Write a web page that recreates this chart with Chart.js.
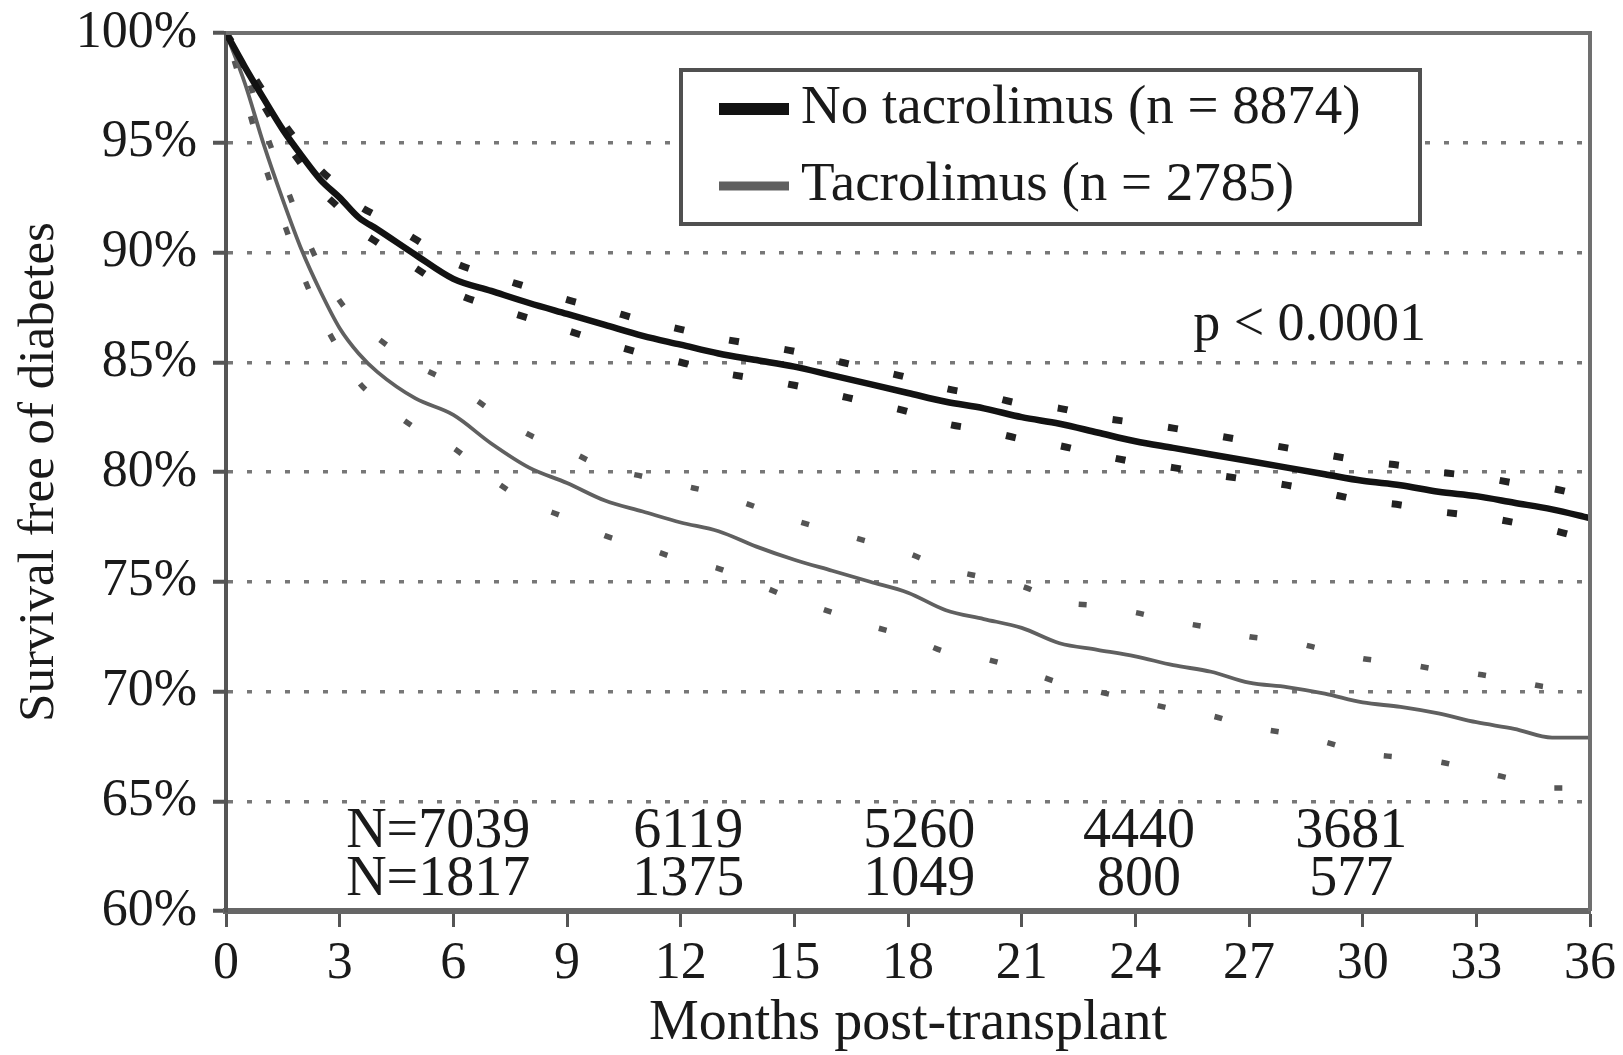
<!DOCTYPE html>
<html>
<head>
<meta charset="utf-8">
<script src="https://cdn.jsdelivr.net/npm/chart.js@4.4.0/dist/chart.umd.min.js"></script>
<style>
  html, body { margin: 0; padding: 0; background: #fff; }
  #wrap { width: 1623px; height: 1055px; }
</style>
</head>
<body>
<div id="wrap"><canvas id="myChart"></canvas></div>
<script>
const months = [0, 0.5, 1, 1.5, 2, 2.5, 3, 3.5, 4, 5, 6, 7, 8, 9, 10, 11, 12,
    13, 14, 15, 16, 17, 18, 19, 20, 21, 22, 23, 24, 25, 26, 27, 28, 29, 30,
    31, 32, 33, 34, 35, 36];

// survival free of diabetes, %
const noTacro = [100, 98.45, 97.0, 95.6, 94.4, 93.3, 92.5, 91.6, 91.05,
    89.9, 88.8, 88.25, 87.7, 87.2, 86.7, 86.2, 85.8,
    85.4, 85.1, 84.8, 84.4, 84.0, 83.6,
    83.2, 82.9, 82.5, 82.2, 81.8, 81.4,
    81.1, 80.8, 80.5, 80.2, 79.9, 79.6,
    79.4, 79.1, 78.9, 78.6, 78.3, 77.9];
const noTacroUpper = [100, 98.65, 97.3, 95.95, 94.8, 93.75, 93.0, 92.15, 91.65,
    90.6, 89.55, 88.95, 88.4, 87.85, 87.4, 86.9, 86.5,
    86.1, 85.8, 85.5, 85.1, 84.7, 84.3,
    83.8, 83.5, 83.1, 82.9, 82.5, 82.25,
    82.0, 81.7, 81.4, 81.1, 80.8, 80.5,
    80.3, 80.0, 79.8, 79.5, 79.25, 78.85];
const noTacroLower = [100, 98.3, 96.7, 95.25, 94.0, 92.85, 92.0, 91.05, 90.45,
    89.3, 88.2, 87.55, 87.0, 86.45, 85.9, 85.4, 85.0,
    84.55, 84.25, 83.95, 83.55, 83.15, 82.75,
    82.2, 81.9, 81.5, 81.2, 80.8, 80.45,
    80.2, 79.9, 79.65, 79.4, 79.05, 78.7,
    78.5, 78.2, 78.0, 77.7, 77.35, 76.9];

const tacro = [100, 97.7, 94.9, 92.4, 90.1, 88.2, 86.55, 85.4, 84.55,
    83.35, 82.6, 81.3, 80.2, 79.5, 78.7, 78.2, 77.7,
    77.3, 76.6, 76.0, 75.5, 75.0, 74.5,
    73.7, 73.3, 72.9, 72.2, 71.9, 71.6,
    71.2, 70.9, 70.4, 70.2, 69.9, 69.5,
    69.3, 69.0, 68.6, 68.3, 67.9, 67.9];
const tacroUpper = [100, 98.3, 95.7, 93.4, 91.2, 89.3, 87.8, 86.8, 86.1,
    84.9, 84.0, 82.8, 81.7, 81.0, 80.2, 79.8, 79.4,
    79.0, 78.4, 77.8, 77.3, 76.8, 76.3,
    75.6, 75.2, 74.8, 74.1, 73.9, 73.6,
    73.2, 72.9, 72.5, 72.3, 71.9, 71.5,
    71.3, 71.0, 70.8, 70.5, 70.2, 70.2];
const tacroLower = [100, 97.1, 94.1, 91.5, 89.1, 87.1, 85.5, 84.1, 83.3,
    82.0, 81.1, 79.7, 78.6, 77.9, 77.1, 76.6, 76.0,
    75.6, 74.9, 74.2, 73.6, 73.0, 72.5,
    71.8, 71.5, 71.0, 70.4, 70.0, 69.6,
    69.2, 68.9, 68.4, 68.1, 67.7, 67.2,
    67.0, 66.8, 66.4, 66.0, 65.6, 65.6];

const xTicks = [0, 3, 6, 9, 12, 15, 18, 21, 24, 27, 30, 33, 36];
const yTicks = [60, 65, 70, 75, 80, 85, 90, 95, 100];

// numbers at risk, written inside the plot
const atRiskMonths = [5.6, 12.2, 18.3, 24.1, 29.7];
const atRiskNoTacro = ["N=7039", "6119", "5260", "4440", "3681"];
const atRiskTacro = ["N=1817", "1375", "1049", "800", "577"];
const atRiskRows = [63.6, 61.4];

const pValueText = "p < 0.0001";
const pValueAt = { month: 28.6, value: 86.65 };

const serif = "'Liberation Serif', 'Times New Roman', serif";
const ink = "#1a1a1a";

function toPoints(values) {
    return values.map((v, i) => ({ x: months[i], y: v }));
}

const extras = {
    id: "extras",
    afterDatasetsDraw(chart) {
        const { ctx, chartArea: a, scales: { x, y } } = chart;
        ctx.save();

        // top and right frame
        ctx.strokeStyle = "#707070";
        ctx.lineWidth = 4;
        ctx.beginPath();
        ctx.moveTo(a.left, a.top);
        ctx.lineTo(a.right, a.top);
        ctx.lineTo(a.right, a.bottom);
        ctx.stroke();

        ctx.fillStyle = ink;
        ctx.textBaseline = "middle";

        // p value
        ctx.font = "54px " + serif;
        ctx.textAlign = "center";
        ctx.fillText(pValueText, x.getPixelForValue(pValueAt.month), y.getPixelForValue(pValueAt.value));

        // numbers at risk
        ctx.font = "56px " + serif;
        [atRiskNoTacro, atRiskTacro].forEach((row, r) => {
            row.forEach((txt, i) => {
                ctx.fillText(txt, x.getPixelForValue(atRiskMonths[i]), y.getPixelForValue(atRiskRows[r]));
            });
        });

        // legend box
        const bx = a.left + 455, by = a.top + 37, bw = 739, bh = 154;
        ctx.fillStyle = "#fff";
        ctx.fillRect(bx, by, bw, bh);
        ctx.strokeStyle = "#505050";
        ctx.lineWidth = 4;
        ctx.strokeRect(bx, by, bw, bh);

        const items = chart.data.datasets.filter(d => d.inLegend);
        items.forEach((d, i) => {
            const cy = by + 39 + i * 77;
            ctx.fillStyle = d.borderColor;
            const h = d.legendThick;
            ctx.fillRect(bx + 38, cy - h / 2, 70, h);
            ctx.fillStyle = ink;
            ctx.font = "55px " + serif;
            ctx.textAlign = "left";
            ctx.fillText(d.label, bx + 120, cy);
        });

        ctx.restore();
    }
};

const ctx = document.getElementById("myChart").getContext("2d");
new Chart(ctx, {
    type: "line",
    data: {
        datasets: [
            {
                label: "No tacrolimus (n = 8874)",
                data: toPoints(noTacro),
                borderColor: "#121212",
                borderWidth: 6.5,
                inLegend: true,
                legendThick: 12
            },
            {
                label: "Tacrolimus (n = 2785)",
                data: toPoints(tacro),
                borderColor: "#606060",
                borderWidth: 3.8,
                inLegend: true,
                legendThick: 9
            },
            {
                label: "No tacrolimus upper",
                data: toPoints(noTacroUpper),
                borderColor: "#222",
                borderWidth: 7,
                borderDash: [10, 46]
            },
            {
                label: "No tacrolimus lower",
                data: toPoints(noTacroLower),
                borderColor: "#222",
                borderWidth: 7,
                borderDash: [10, 46],
                borderDashOffset: 28
            },
            {
                label: "Tacrolimus upper",
                data: toPoints(tacroUpper),
                borderColor: "#555",
                borderWidth: 5.5,
                borderDash: [8, 50]
            },
            {
                label: "Tacrolimus lower",
                data: toPoints(tacroLower),
                borderColor: "#555",
                borderWidth: 5.5,
                borderDash: [8, 50],
                borderDashOffset: 29
            }
        ]
    },
    options: {
        responsive: true,
        maintainAspectRatio: false,
        animation: false,
        layout: { padding: { top: 33, right: 33, bottom: 0, left: 0 } },
        elements: {
            point: { radius: 0 },
            line: { cubicInterpolationMode: "monotone", borderCapStyle: "butt" }
        },
        plugins: {
            legend: { display: false },
            tooltip: { enabled: false }
        },
        scales: {
            x: {
                type: "linear",
                min: 0,
                max: 36,
                afterBuildTicks: s => { s.ticks = xTicks.map(v => ({ value: v })); },
                afterFit: s => {
                    s.height = 144;
                    s.paddingLeft = 0;
                    s.paddingRight = 0;
                },
                grid: {
                    drawOnChartArea: false,
                    drawTicks: true,
                    tickLength: 16,
                    tickWidth: 3,
                    tickColor: "#555"
                },
                border: { color: "#666", width: 6 },
                ticks: {
                    color: ink,
                    padding: 6,
                    maxRotation: 0,
                    font: { family: serif, size: 52 }
                },
                title: {
                    display: true,
                    text: "Months post-transplant",
                    color: ink,
                    padding: { top: 0, bottom: 3 },
                    font: { family: serif, size: 56, lineHeight: 1 }
                }
            },
            y: {
                min: 60,
                max: 100,
                afterBuildTicks: s => { s.ticks = yTicks.map(v => ({ value: v })); },
                afterFit: s => {
                    s.width = 226;
                    s.paddingTop = 0;
                    s.paddingBottom = 0;
                },
                grid: {
                    color: "#777",
                    lineWidth: 3.5,
                    tickLength: 13,
                    tickWidth: 4,
                    tickColor: "#555",
                    tickBorderDash: []
                },
                border: { color: "#555", width: 4, dash: [5, 14] },
                ticks: {
                    color: ink,
                    padding: 16,
                    font: { family: serif, size: 52 },
                    callback: v => v + "%"
                },
                title: {
                    display: true,
                    text: "Survival free of diabetes",
                    color: ink,
                    padding: { top: 14, bottom: 0 },
                    font: { family: serif, size: 51, lineHeight: 1 }
                }
            }
        }
    },
    plugins: [extras]
});
</script>
</body>
</html>
